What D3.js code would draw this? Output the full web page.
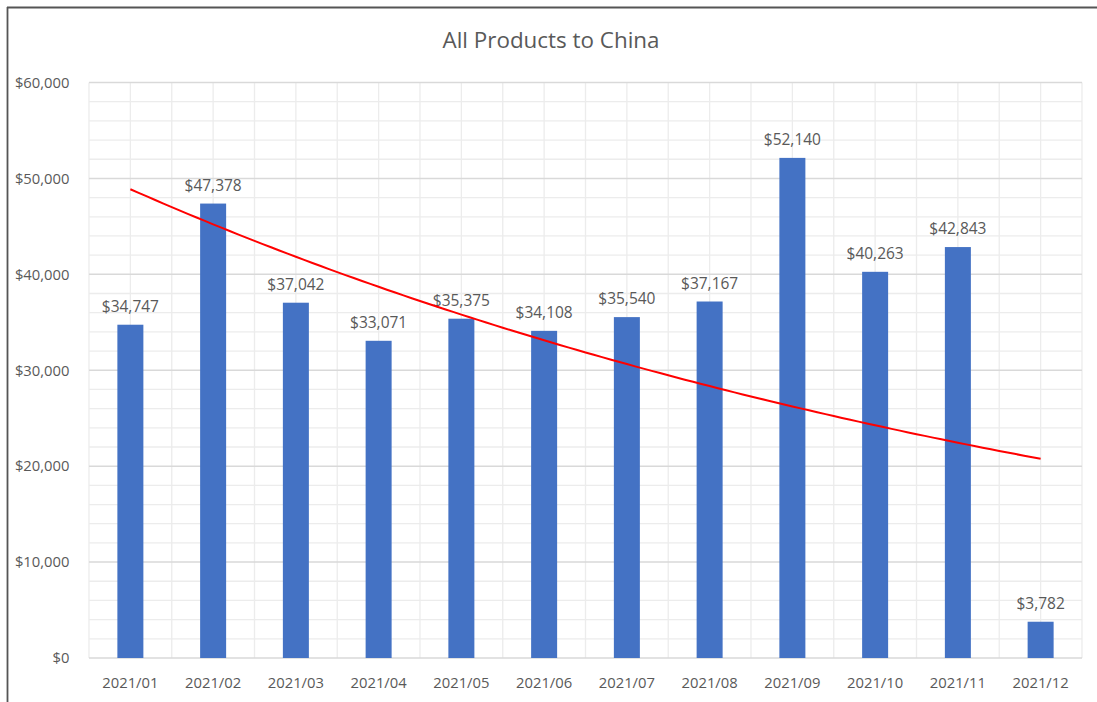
<!DOCTYPE html>
<html>
<head>
<meta charset="utf-8">
<script src="https://cdn.jsdelivr.net/npm/d3@7"></script>
<style>
  html, body { margin: 0; padding: 0; background: #fff; }
  svg { display: block; }
  text { font-family: "Open Sans", "Noto Sans", sans-serif; fill: #595959; }
</style>
</head>
<body>
<svg id="chart" width="1097" height="702"></svg>
<script>
// Monthly export values, all products to China, 2021
const months = ["2021/01","2021/02","2021/03","2021/04","2021/05","2021/06",
                "2021/07","2021/08","2021/09","2021/10","2021/11","2021/12"];
const values = [34747, 47378, 37042, 33071, 35375, 34108,
                35540, 37167, 52140, 40263, 42843, 3782];
const yTicks = [0, 10000, 20000, 30000, 40000, 50000, 60000];
const chartTitle = "All Products to China";

const W = 1097, H = 702;
const margin = { left: 89, right: 1082, top: 82.5, bottom: 658 };

const svg = d3.select("#chart");

// outer frame (top and left edges)
svg.append("line").attr("x1", 7).attr("x2", W).attr("y1", 7.5).attr("y2", 7.5)
  .attr("stroke", "#555", ).attr("stroke-width", 1.8);
svg.append("line").attr("x1", 7.5).attr("x2", 7.5).attr("y1", 7).attr("y2", H)
  .attr("stroke", "#555").attr("stroke-width", 1.8);

const x = d3.scaleBand().domain(months).range([margin.left, margin.right]).padding(0);
const y = d3.scaleLinear().domain([0, 60000]).range([margin.bottom, margin.top]);

const grid = svg.append("g");
// minor horizontal gridlines every 2,000
d3.range(0, 60001, 2000).filter(v => v % 10000 !== 0).forEach(v => {
  grid.append("line").attr("x1", margin.left).attr("x2", margin.right)
    .attr("y1", y(v)).attr("y2", y(v))
    .attr("stroke", "#ececec").attr("stroke-width", 1.3);
});
// minor vertical gridlines at band edges and centres
const vx = [];
months.forEach(m => { vx.push(x(m)); vx.push(x(m) + x.bandwidth() / 2); });
vx.push(margin.right);
vx.forEach(px => {
  grid.append("line").attr("x1", px).attr("x2", px)
    .attr("y1", margin.top).attr("y2", margin.bottom)
    .attr("stroke", "#ececec").attr("stroke-width", 1.3);
});
// major horizontal gridlines
yTicks.forEach(v => {
  grid.append("line").attr("x1", margin.left).attr("x2", margin.right)
    .attr("y1", y(v)).attr("y2", y(v))
    .attr("stroke", "#d9d9d9").attr("stroke-width", 1.5);
});

// y axis labels
const yAxis = d3.axisLeft(y).tickValues(yTicks).tickSize(0).tickPadding(0)
  .tickFormat(d => "$" + d3.format(",")(d));
svg.append("g").attr("transform", "translate(69.5,0)").call(yAxis)
  .call(g => g.select(".domain").remove())
  .selectAll("text").attr("font-size", 14.8).attr("fill", "#595959")
  .style("font-family", "'Open Sans', sans-serif");

// x axis labels
const xAxis = d3.axisBottom(x).tickSize(0).tickPadding(0);
svg.append("g").attr("transform", `translate(0,${margin.bottom + 19})`).call(xAxis)
  .call(g => g.select(".domain").remove())
  .selectAll("text").attr("font-size", 14.8).attr("fill", "#595959")
  .style("font-family", "'Open Sans', sans-serif");

// bars
const barW = 26;
svg.append("g").selectAll("rect").data(values).join("rect")
  .attr("x", (d, i) => x(months[i]) + x.bandwidth() / 2 - barW / 2)
  .attr("y", d => y(d))
  .attr("width", barW)
  .attr("height", d => y(0) - y(d))
  .attr("fill", "#4472C4");

// value labels
svg.append("g").selectAll("text").data(values).join("text")
  .attr("x", (d, i) => x(months[i]) + x.bandwidth() / 2)
  .attr("y", d => y(d) - 13)
  .attr("text-anchor", "middle")
  .attr("font-size", 15.5)
  .text(d => "$" + d3.format(",")(d));

// exponential trendline: least-squares fit of ln(value) against month index
const n = values.length;
const idx = d3.range(1, n + 1);
const lnv = values.map(Math.log);
const mx = d3.mean(idx), my = d3.mean(lnv);
const b = d3.sum(idx, (t, i) => (t - mx) * (lnv[i] - my)) / d3.sum(idx, t => (t - mx) ** 2);
const a = Math.exp(my - b * mx);
const trendX = d3.scaleLinear().domain([1, n])
  .range([x(months[0]) + x.bandwidth() / 2, x(months[n - 1]) + x.bandwidth() / 2]);
const steps = d3.range(1, n + 0.001, 0.1);
svg.append("path")
  .datum(steps)
  .attr("fill", "none")
  .attr("stroke", "#FF0000")
  .attr("stroke-width", 2)
  .attr("d", d3.line().x(t => trendX(t)).y(t => y(a * Math.exp(b * t))));

// title
svg.append("text").attr("x", 551).attr("y", 48)
  .attr("text-anchor", "middle").attr("font-size", 22.4)
  .text(chartTitle);
</script>
</body>
</html>
